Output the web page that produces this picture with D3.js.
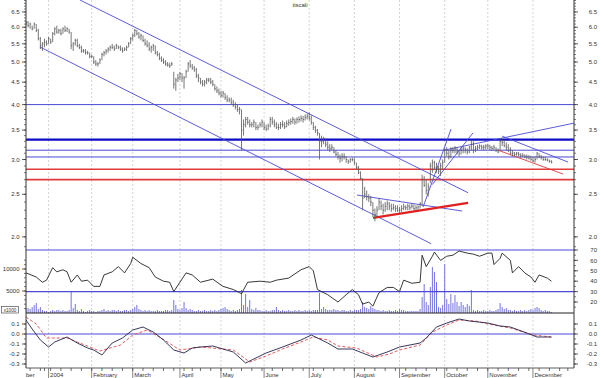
<!DOCTYPE html>
<html>
<head>
<meta charset="utf-8">
<script src="https://cdn.jsdelivr.net/npm/d3@7"></script>
<style>
    body { margin: 0; background: #fff; }
    svg { display: block; font-family: "Liberation Sans", Arial, sans-serif; }
    .lbl { font-size: 6px; fill: #333; }
</style>
</head>
<body>
<div id="chart" style="width:600px;height:378px"></div>
<script>

// one bar per trading day, index 0 = 11 Dec 2003
const hi = [6.2,6.2,6.15,6.05,6.15,6.1,5.95,5.7,5.55,5.65,
    5.6,5.7,5.65,5.85,6.0,6.05,5.95,5.95,6.0,6.05,
    6.0,5.95,5.85,5.55,5.65,5.65,5.5,5.45,5.35,5.35,
    5.3,5.25,5.2,5.15,5.05,5.0,5.1,5.25,5.3,5.35,
    5.4,5.45,5.5,5.45,5.5,5.45,5.45,5.4,5.4,5.45,
    5.55,5.7,5.8,5.95,5.92,5.85,5.8,5.75,5.65,5.6,
    5.55,5.45,5.5,5.45,5.3,5.25,5.15,5.1,5.05,5.0,
    4.98,5.0,4.75,4.6,4.7,4.75,4.72,4.65,4.8,5.0,
    5.05,4.95,4.9,4.85,4.7,4.6,4.55,4.55,4.6,4.6,
    4.6,4.55,4.45,4.4,4.35,4.3,4.3,4.25,4.2,4.15,
    4.15,4.1,4.05,4.0,3.95,3.9,3.7,3.75,3.75,3.7,
    3.65,3.7,3.65,3.6,3.65,3.7,3.65,3.6,3.62,3.75,
    3.75,3.7,3.65,3.62,3.65,3.68,3.65,3.68,3.7,3.72,
    3.75,3.72,3.74,3.76,3.78,3.77,3.8,3.82,3.84,3.78,
    3.65,3.58,3.52,3.45,3.4,3.38,3.35,3.3,3.25,3.25,
    3.2,3.15,3.12,3.08,3.1,3.1,3.05,3.0,3.02,3.03,
    3.02,2.95,2.9,2.82,2.72,2.6,2.55,2.5,2.48,2.4,
    2.32,2.35,2.45,2.42,2.38,2.4,2.42,2.4,2.38,2.38,
    2.36,2.36,2.34,2.36,2.38,2.36,2.38,2.37,2.38,2.37,
    2.36,2.36,2.4,2.77,2.75,2.7,2.65,2.95,3.0,2.98,
    2.95,2.9,2.95,3.0,3.18,3.2,3.15,3.2,3.2,3.22,
    3.2,3.15,3.2,3.22,3.2,3.18,3.22,3.32,3.3,3.22,
    3.24,3.25,3.24,3.24,3.25,3.26,3.24,3.22,3.24,3.2,
    3.18,3.35,3.36,3.32,3.28,3.25,3.2,3.15,3.12,3.12,
    3.12,3.1,3.1,3.08,3.08,3.07,3.06,3.04,3.05,3.12,
    3.1,3.07,3.05,3.04,3.02,3.0,2.99];

const lo = [6.05,6.0,5.95,5.9,5.95,5.85,5.6,5.35,5.3,5.4,
    5.45,5.5,5.5,5.55,5.75,5.8,5.8,5.75,5.8,5.85,
    5.85,5.8,5.35,5.3,5.45,5.4,5.35,5.25,5.25,5.2,
    5.2,5.1,5.1,4.95,4.9,4.88,4.95,5.05,5.15,5.2,
    5.25,5.3,5.35,5.3,5.35,5.35,5.3,5.25,5.3,5.3,
    5.4,5.5,5.6,5.7,5.75,5.65,5.6,5.55,5.45,5.4,
    5.3,5.25,5.3,5.2,5.15,5.05,5.0,4.95,4.9,4.88,
    4.85,4.9,4.35,4.3,4.5,4.55,4.5,4.35,4.6,4.75,
    4.85,4.8,4.75,4.6,4.5,4.45,4.4,4.4,4.45,4.5,
    4.45,4.4,4.3,4.25,4.2,4.15,4.15,4.1,4.05,4.05,
    4.0,3.95,3.9,3.85,3.8,3.15,3.4,3.55,3.6,3.55,
    3.55,3.55,3.5,3.5,3.55,3.55,3.5,3.48,3.5,3.55,
    3.6,3.55,3.52,3.5,3.52,3.55,3.52,3.55,3.58,3.6,
    3.62,3.6,3.62,3.64,3.66,3.64,3.68,3.7,3.68,3.6,
    3.5,3.45,3.4,3.0,3.2,3.25,3.2,3.15,3.12,3.15,
    3.1,3.05,3.0,2.95,2.97,3.0,2.95,2.93,2.95,2.97,
    2.92,2.85,2.78,2.7,2.3,2.45,2.42,2.4,2.35,2.22,
    2.17,2.22,2.3,2.3,2.25,2.28,2.3,2.3,2.28,2.3,
    2.28,2.28,2.27,2.28,2.3,2.3,2.3,2.3,2.32,2.3,
    2.3,2.3,2.32,2.35,2.6,2.5,2.47,2.65,2.8,2.85,
    2.8,2.78,2.75,2.85,2.95,3.05,3.0,3.02,3.1,3.1,
    3.08,3.05,3.08,3.1,3.1,3.08,3.1,3.15,3.1,3.12,
    3.15,3.17,3.16,3.15,3.16,3.17,3.15,3.14,3.15,3.12,
    3.1,3.15,3.22,3.2,3.15,3.12,3.08,3.05,3.05,3.06,
    3.05,3.03,3.04,3.02,3.0,3.0,2.98,2.96,2.95,3.0,
    3.02,3.0,2.98,2.98,2.97,2.95,2.94];

const cl = [6.15,6.05,6.1,5.95,6.1,5.9,5.65,5.45,5.5,5.55,
    5.5,5.65,5.55,5.8,5.95,5.85,5.9,5.8,5.95,5.9,
    5.95,5.85,5.45,5.5,5.6,5.45,5.4,5.3,5.3,5.25,
    5.25,5.15,5.15,5.0,4.95,4.95,5.05,5.2,5.25,5.3,
    5.35,5.4,5.4,5.35,5.45,5.4,5.35,5.3,5.35,5.4,
    5.5,5.65,5.75,5.9,5.8,5.7,5.75,5.6,5.5,5.45,
    5.35,5.4,5.45,5.25,5.2,5.1,5.05,5.0,4.95,4.92,
    4.9,4.95,4.45,4.55,4.6,4.7,4.6,4.6,4.75,4.95,
    4.9,4.85,4.8,4.65,4.6,4.5,4.45,4.5,4.55,4.55,
    4.5,4.45,4.35,4.3,4.25,4.2,4.25,4.15,4.1,4.1,
    4.05,4.0,3.95,3.9,3.9,3.5,3.6,3.7,3.65,3.6,
    3.6,3.65,3.55,3.55,3.6,3.65,3.55,3.52,3.58,3.7,
    3.65,3.6,3.55,3.55,3.6,3.6,3.56,3.62,3.64,3.66,
    3.7,3.65,3.7,3.7,3.72,3.7,3.74,3.76,3.72,3.65,
    3.55,3.5,3.45,3.3,3.3,3.35,3.25,3.2,3.18,3.2,
    3.12,3.08,3.05,3.02,3.05,3.05,3.0,2.97,3.0,3.0,
    2.95,2.88,2.8,2.72,2.45,2.5,2.47,2.45,2.4,2.3,
    2.25,2.3,2.4,2.35,2.3,2.35,2.38,2.35,2.32,2.33,
    2.32,2.3,2.3,2.32,2.34,2.33,2.35,2.33,2.35,2.32,
    2.33,2.34,2.38,2.7,2.62,2.55,2.6,2.9,2.95,2.88,
    2.85,2.82,2.9,2.95,3.15,3.1,3.05,3.15,3.15,3.18,
    3.12,3.1,3.15,3.18,3.15,3.12,3.2,3.25,3.15,3.18,
    3.2,3.22,3.2,3.2,3.22,3.22,3.2,3.18,3.2,3.15,
    3.12,3.3,3.28,3.22,3.2,3.15,3.1,3.1,3.08,3.1,
    3.08,3.06,3.07,3.05,3.04,3.02,3.0,2.98,3.0,3.1,
    3.05,3.03,3.0,3.0,2.99,2.97,2.96];

// volume, x1000
const vol = [1130,1130,910,1360,1820,2270,910,1360,680,450,
    450,230,450,680,450,680,680,450,680,450,
    450,680,4770,1130,2040,680,450,910,450,230,
    450,680,450,450,230,450,450,680,910,450,
    680,450,680,680,450,680,450,450,680,680,
    450,680,910,1360,1820,910,680,450,680,450,
    680,450,450,450,680,450,450,450,680,680,
    450,680,2950,1820,910,680,1130,2500,1130,680,
    910,680,450,450,680,450,450,680,450,450,
    680,450,680,450,680,910,1130,1360,910,680,
    450,680,450,680,910,5220,1820,4310,1360,2950,
    910,680,1130,680,680,450,450,680,450,450,
    680,680,1360,680,450,680,450,450,680,450,
    450,680,450,680,450,450,680,450,680,450,
    680,680,680,4540,910,1360,910,680,680,680,
    910,680,680,450,680,680,450,450,680,450,
    680,680,680,910,2500,1360,1130,910,1590,1130,
    910,680,680,450,680,450,450,680,450,450,
    680,450,910,680,680,450,450,450,450,450,
    450,450,910,3630,6580,2500,1820,5900,10440,9310,
    7040,1360,1130,1820,11120,3180,2040,4310,2270,4090,
    2500,1590,2500,1820,1360,2040,1590,5220,680,450,
    680,450,450,680,450,450,680,450,450,680,
    910,2270,1360,910,1130,680,680,450,680,450,
    450,680,450,680,450,680,910,680,1130,1360,
    1130,680,450,680,450,450,230];

const rsiDay = [0,5,8,10,13,15,18,20,22,25,27,30,33,36,38,42,45,48,51,52,56,60,63,67,70,72,75,78,81,85,
    91,96,101,104,105,108,114,119,122,128,134,138,140,142,147,152,156,159,162,164,167,169,172,176,179,182,
    184,188,192,193,195,198,199,202,205,208,211,215,218,221,225,227,228,231,232,236,237,240,243,246,248,250,254,256];
const rsiVal = [48,44,39,41,53,49,51,49,39,46,40,41,35,35,46,49,54,48,57,63,57,53,44,40,39,30,39,48,46,39,
    42,35,32,29,28,39,40,39,41,43,51,54,50,32,27,20,27,32,27,18,20,16,29,34,34,30,
    41,38,39,65,54,64,68,60,64,65,69,67,66,64,67,67,56,62,67,60,48,54,48,44,39,46,43,40];

const macdDay = [0,3,7,11,14,20,25,30,33,37,42,47,52,57,62,67,72,77,81,85,91,101,107,117,125,134,139,147,152,159,
    164,169,176,182,192,195,200,205,211,216,225,231,236,244,249,256];
const macdVal = [0.14,0.05,-0.06,-0.13,-0.08,-0.03,-0.09,-0.14,-0.16,-0.21,-0.09,-0.04,0.04,0.07,0.02,-0.06,-0.16,-0.19,-0.14,-0.13,
    -0.12,-0.18,-0.29,-0.19,-0.13,-0.06,-0.01,-0.09,-0.15,-0.15,-0.19,-0.23,-0.18,-0.13,-0.09,-0.04,0.07,0.11,0.15,0.13,
    0.11,0.08,0.07,0.01,-0.03,-0.03];
const sigDay = [0,5,10,20,36,46,52,59,65,75,85,101,109,117,125,134,140,147,152,161,171,177,182,192,198,205,211,219,225,236,247,256];
const sigVal = [0.17,0.10,-0.04,-0.04,-0.17,-0.11,-0.01,0.04,-0.03,-0.16,-0.13,-0.16,-0.28,-0.22,-0.15,-0.08,-0.03,-0.06,-0.12,-0.14,
    -0.23,-0.2,-0.16,-0.11,0.02,0.09,0.14,0.13,0.1,0.06,-0.01,-0.03];

// horizontal levels and trend lines: [day, price, day, price]
const levelsBlue = [4.0, 3.15, 3.04];
const levelsBold = [3.33];
const levelsRed = [2.85, 2.70];
const trendBlue = [[26.3,6.92,215.4,2.52],[6.8,5.41,197.4,1.93],[161.3,2.49,212.5,2.29],
    [193.5,2.34,207.1,3.52],[197.9,2.63,217.8,3.45],[203.7,3.15,267,3.63],[232,3.39,264.1,2.96]];
const trendRed = [[230,3.15,261.7,2.78]];
const trendRedBold = [[169.1,2.21,215.4,2.39]];

const priceTicks = [2.0,2.5,3.0,3.5,4.0,4.5,5.0,5.5,6.0,6.5];
const rsiTicks = [20,30,40,50,60,70];
const rsiLevels = [70,30];
const volTicks = [5000,10000];
const macdTicks = [-0.3,-0.2,-0.1,0.0,0.1];
const monthNames = ['December','2004','February','March','April','May','June','July','August','September','October','November','December'];
const holidays = ['2003-12-24','2003-12-25','2003-12-26','2003-12-31','2004-01-01','2004-04-09','2004-04-12','2004-12-24'];

class StockVis {

    constructor(parentElement){
        this.parentElement = parentElement;
        this.initVis();
    }

    initVis(){
        let vis = this;

        vis.width = 600;
        vis.height = 378;
        vis.left = 26;
        vis.right = 574;
        vis.bottom = 368;

        vis.svg = d3.select('#' + vis.parentElement).append('svg')
            .attr('width', vis.width)
            .attr('height', vis.height);

        // trading calendar
        let fmt = d3.timeFormat('%Y-%m-%d');
        vis.days = [];
        for (let d = new Date(2003, 11, 11); d <= new Date(2004, 11, 30); d.setDate(d.getDate() + 1)) {
            if (d.getDay() > 0 && d.getDay() < 6 && !holidays.includes(fmt(d))) vis.days.push(new Date(d));
        }

        vis.x = d3.scaleLinear().domain([0, vis.days.length - 1]).range([vis.left, vis.right]);
        vis.yPrice = d3.scaleLog().domain([1.877, 6.92]).range([249, 0]);
        vis.yRsi = d3.scaleLinear().domain([20, 70]).range([302, 250]);
        vis.yVol = d3.scaleLinear().domain([0, 10000]).range([313, 269]);
        vis.yMacd = d3.scaleLinear().domain([-0.3, 0.1]).range([364, 324]);

        let defs = vis.svg.append('defs');
        defs.append('clipPath').attr('id', 'clipPrice').append('rect')
            .attr('x', vis.left).attr('y', 0).attr('width', vis.right - vis.left).attr('height', 249);
        defs.append('clipPath').attr('id', 'clipAll').append('rect')
            .attr('x', vis.left).attr('y', 0).attr('width', vis.right - vis.left).attr('height', vis.bottom);
        defs.append('clipPath').attr('id', 'clipLabels').append('rect')
            .attr('x', vis.left).attr('y', vis.bottom).attr('width', vis.right - vis.left).attr('height', 10);

        // month starts
        vis.months = [];
        vis.days.forEach((d, i) => {
            if (i > 0 && d.getMonth() !== vis.days[i - 1].getMonth()) vis.months.push(i);
        });
        // Dec 2003 begins before the first bar
        vis.months.unshift(-10);

        vis.svg.append('g').attr('clip-path', 'url(#clipAll)')
            .selectAll('line').data(vis.months).enter().append('line')
            .attr('x1', d => vis.x(d)).attr('x2', d => vis.x(d))
            .attr('y1', 0).attr('y2', vis.bottom)
            .attr('stroke', '#c8c8c8').attr('stroke-width', 0.8).attr('stroke-dasharray', '2,2');

        vis.drawPrice();
        vis.drawLower();
        vis.drawAxes();

        vis.svg.append('text').attr('class', 'lbl')
            .attr('x', 300).attr('y', 7).attr('text-anchor', 'middle').text('tiscali');
    }

    drawPrice(){
        let vis = this;
        let g = vis.svg.append('g').attr('clip-path', 'url(#clipPrice)');

        let hline = (vals, color, w) => {
            g.append('g').selectAll('line').data(vals).enter().append('line')
                .attr('x1', vis.left).attr('x2', vis.right)
                .attr('y1', d => vis.yPrice(d)).attr('y2', d => vis.yPrice(d))
                .attr('stroke', color).attr('stroke-width', w);
        };
        hline(levelsBlue, '#4a4ad6', 1);
        hline(levelsBold, '#0c0cc4', 2.2);
        hline(levelsRed, '#e23a3a', 1.6);

        let tline = (vals, color, w) => {
            g.append('g').selectAll('line').data(vals).enter().append('line')
                .attr('x1', d => vis.x(d[0])).attr('y1', d => vis.yPrice(d[1]))
                .attr('x2', d => vis.x(d[2])).attr('y2', d => vis.yPrice(d[3]))
                .attr('stroke', color).attr('stroke-width', w);
        };
        tline(trendBlue, '#4a4ad6', 0.9);
        tline(trendRed, '#e23a3a', 0.9);
        tline(trendRedBold, '#e02020', 2.2);

        let bars = g.append('g').attr('stroke', '#555').attr('stroke-width', 0.8);
        bars.selectAll('.hl').data(hi).enter().append('line')
            .attr('class', 'hl')
            .attr('x1', (d, i) => vis.x(i)).attr('x2', (d, i) => vis.x(i))
            .attr('y1', d => vis.yPrice(d)).attr('y2', (d, i) => vis.yPrice(lo[i]));
        bars.selectAll('.cl').data(cl).enter().append('line')
            .attr('class', 'cl')
            .attr('x1', (d, i) => vis.x(i)).attr('x2', (d, i) => vis.x(i) + 1)
            .attr('y1', d => vis.yPrice(d)).attr('y2', d => vis.yPrice(d));
    }

    drawLower(){
        let vis = this;
        let g = vis.svg.append('g').attr('clip-path', 'url(#clipAll)');

        // volume
        g.append('g').selectAll('rect').data(vol).enter().append('rect')
            .attr('x', (d, i) => vis.x(i) - 0.5)
            .attr('width', 1)
            .attr('y', d => vis.yVol(d))
            .attr('height', d => vis.yVol(0) - vis.yVol(d))
            .attr('fill', '#7474e2');

        g.append('g').selectAll('line').data(rsiLevels).enter().append('line')
            .attr('x1', vis.left).attr('x2', vis.right)
            .attr('y1', d => vis.yRsi(d)).attr('y2', d => vis.yRsi(d))
            .attr('stroke', '#4a4ad6').attr('stroke-width', 1.2);

        g.append('line')
            .attr('x1', vis.left).attr('x2', vis.right)
            .attr('y1', vis.yMacd(0)).attr('y2', vis.yMacd(0))
            .attr('stroke', '#4a4ad6').attr('stroke-width', 1.2);

        g.append('line')
            .attr('x1', vis.left).attr('x2', vis.right)
            .attr('y1', vis.yVol(0)).attr('y2', vis.yVol(0))
            .attr('stroke', '#222').attr('stroke-width', 1);

        let rsiLine = d3.line().x(d => vis.x(d[0])).y(d => vis.yRsi(d[1]));
        g.append('path')
            .attr('d', rsiLine(rsiDay.map((d, i) => [d, rsiVal[i]])))
            .attr('fill', 'none').attr('stroke', '#222').attr('stroke-width', 0.9);

        let macdLine = d3.line().x(d => vis.x(d[0])).y(d => vis.yMacd(d[1]));
        g.append('path')
            .attr('d', macdLine(sigDay.map((d, i) => [d, sigVal[i]])))
            .attr('fill', 'none').attr('stroke', '#e04848').attr('stroke-width', 0.9)
            .attr('stroke-dasharray', '3,2');
        g.append('path')
            .attr('d', macdLine(macdDay.map((d, i) => [d, macdVal[i]])))
            .attr('fill', 'none').attr('stroke', '#22224a').attr('stroke-width', 0.9);

        // x1000 box
        vis.svg.append('rect')
            .attr('x', 1.5).attr('y', 306.5).attr('width', 17).attr('height', 6.5)
            .attr('fill', '#fff').attr('stroke', '#333').attr('stroke-width', 0.6);
        vis.svg.append('text')
            .attr('x', 10).attr('y', 311.7).attr('text-anchor', 'middle')
            .style('font-size', '4.6px').attr('fill', '#333').text('x1000');
    }

    drawAxes(){
        let vis = this;
        let fmt1 = d => d.toFixed(1);

        let axis = (side, scale, major, minor, format) => {
            let g = vis.svg.append('g');
            let xa = side === 'left' ? vis.left : vis.right;
            let dir = side === 'left' ? -1 : 1;
            g.selectAll('.mn').data(minor).enter().append('line')
                .attr('x1', xa).attr('x2', xa + dir * 2)
                .attr('y1', d => scale(d)).attr('y2', d => scale(d))
                .attr('stroke', '#444').attr('stroke-width', 0.7);
            g.selectAll('.mj').data(major).enter().append('line')
                .attr('x1', xa).attr('x2', xa + dir * 4)
                .attr('y1', d => scale(d)).attr('y2', d => scale(d))
                .attr('stroke', '#333').attr('stroke-width', 0.8);
            g.selectAll('text').data(major).enter().append('text')
                .attr('class', 'lbl')
                .attr('x', side === 'left' ? 19.5 : 597)
                .attr('y', d => scale(d)).attr('dy', '0.35em')
                .attr('text-anchor', 'end')
                .text(format);
        };

        let priceMinor = d3.range(19, 70).map(d => d / 10);
        let macdMinor = d3.range(-6, 3).map(d => d / 20);

        axis('left', vis.yPrice, priceTicks, priceMinor, fmt1);
        axis('right', vis.yPrice, priceTicks, priceMinor, fmt1);
        axis('left', vis.yVol, volTicks, d3.range(1000, 13000, 1000), d => d);
        axis('right', vis.yRsi, rsiTicks, d3.range(15, 75, 5), d => d);
        axis('left', vis.yMacd, macdTicks, macdMinor, fmt1);
        axis('right', vis.yMacd, macdTicks, macdMinor, fmt1);

        vis.svg.append('g').selectAll('line').data([vis.left, vis.right]).enter().append('line')
            .attr('x1', d => d).attr('x2', d => d).attr('y1', 0).attr('y2', vis.bottom)
            .attr('stroke', '#333').attr('stroke-width', 1);

        // time axis
        let bx = vis.svg.append('g');
        bx.append('line').attr('x1', vis.left).attr('x2', vis.right)
            .attr('y1', vis.bottom).attr('y2', vis.bottom)
            .attr('stroke', '#333').attr('stroke-width', 0.8);

        let weeks = [];
        vis.days.forEach((d, i) => {
            if (i > 0 && d.getDay() < vis.days[i - 1].getDay()) weeks.push(i);
        });
        bx.selectAll('.wk').data(weeks).enter().append('line')
            .attr('x1', d => vis.x(d)).attr('x2', d => vis.x(d))
            .attr('y1', vis.bottom).attr('y2', vis.bottom + 3)
            .attr('stroke', '#333').attr('stroke-width', 0.7);

        let lab = bx.append('g').attr('clip-path', 'url(#clipLabels)');
        lab.selectAll('line').data(vis.months).enter().append('line')
            .attr('x1', d => vis.x(d)).attr('x2', d => vis.x(d))
            .attr('y1', vis.bottom).attr('y2', vis.height)
            .attr('stroke', '#555').attr('stroke-width', 0.7);
        lab.selectAll('text').data(vis.months).enter().append('text')
            .attr('class', 'lbl')
            .attr('x', d => vis.x(d) + 1.5).attr('y', 377)
            .text((d, i) => monthNames[i]);
    }
}

new StockVis('chart');
</script>
</body>
</html>
